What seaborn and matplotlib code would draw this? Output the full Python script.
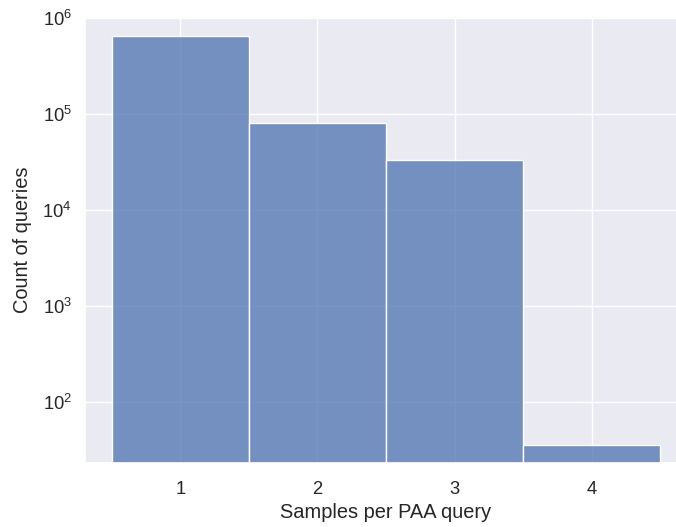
import matplotlib
matplotlib.use("Agg")
import matplotlib.pyplot as plt
import seaborn as sns
import pandas as pd

samples = [1, 2, 3, 4]
counts = [655000, 81800, 33400, 36]

sns.set_theme(style="darkgrid", font_scale=1.2)
plt.rcParams["font.family"] = ["Liberation Sans", "DejaVu Sans"]
plt.rcParams["mathtext.fontset"] = "custom"
plt.rcParams["mathtext.rm"] = "Liberation Sans"
plt.rcParams["mathtext.it"] = "Liberation Sans:italic"
plt.rcParams["mathtext.bf"] = "Liberation Sans:bold"

df = pd.DataFrame({"samples": samples, "count": counts})

fig = plt.figure(figsize=(6.76, 5.27), dpi=100)
ax = fig.add_axes([85 / 676, 64 / 527, 602 / 676, 446 / 527])
sns.histplot(data=df, x="samples", weights="count", discrete=True, ax=ax)
ax.set_yscale("log")
ax.set_xlim(0.303, 4.697)
ax.set_ylim(23.2, 1.03e6)
ax.set_xticks(samples)
xpad = plt.rcParams["xtick.major.pad"]
ax.tick_params(axis="x", pad=xpad + 3.3)
ax.set_xlabel("Samples per PAA query")
ax.set_ylabel("Count of queries", labelpad=plt.rcParams["axes.labelpad"] + 3.6)
fig.savefig("out.png", dpi=100)
